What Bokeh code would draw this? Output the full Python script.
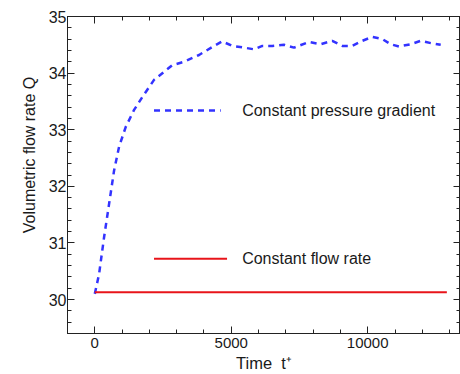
from bokeh.plotting import figure
from bokeh.models import Range1d, SingleIntervalTicker, LinearAxis, Label
from bokeh.embed import file_html
from bokeh.resources import INLINE

# Constant pressure gradient: flow rate vs time
t_pg = [0, 157, 340, 524, 707, 890, 1135, 1440, 1745, 2170, 2840, 3270, 3820, 4300,
        4670, 5040, 5470, 5835, 6140, 6505, 6935, 7300, 7850, 8280, 8700, 9070,
        9435, 9800, 10170, 10535, 10840, 11150, 11575, 11940, 12310, 12675]
q_pg = [30.10, 30.45, 31.10, 31.69, 32.28, 32.70, 33.05, 33.35, 33.58, 33.88, 34.14, 34.20,
        34.32, 34.46, 34.56, 34.48, 34.45, 34.42, 34.48, 34.48, 34.50, 34.45, 34.55, 34.51,
        34.57, 34.48, 34.48, 34.57, 34.64, 34.60, 34.51, 34.47, 34.51, 34.57, 34.53, 34.50]

# Constant flow rate
t_cf = [0, 12900]
q_cf = [30.13, 30.13]

label_pg = "Constant pressure gradient"
label_cf = "Constant flow rate"
x_label = "Time\u00a0\u00a0t\u207a"
y_label = "Volumetric flow rate Q"

FONT = "Liberation Sans"
TXT = "#1a1a1a"
BLUE = "#3333ff"
RED = "#e8141a"

p = figure(width=460, height=374, output_backend="svg", toolbar_location=None,
           x_range=Range1d(-1000, 13400), y_range=Range1d(29.4, 35.0),
           min_border_left=67, min_border_right=0, min_border_top=16, min_border_bottom=41,
           background_fill_color="white", border_fill_color="white")
p.outline_line_color = "#222222"
p.grid.visible = False

blue = p.line(t_pg, q_pg, line_color=BLUE, line_width=2.5, line_dash="6 5")
red = p.line(t_cf, q_cf, line_color=RED, line_width=2)

def style_axis(ax, labels=True, size="15px"):
    ax.axis_line_color = "#222222"
    ax.major_tick_line_color = "#222222"
    ax.minor_tick_line_color = "#222222"
    ax.major_tick_in = 7
    ax.major_tick_out = 0
    ax.minor_tick_in = 4
    ax.minor_tick_out = 0
    if labels:
        ax.major_label_text_font = FONT
        ax.major_label_text_font_size = size
        ax.major_label_text_color = TXT
    else:
        ax.major_label_text_font_size = "0px"
        ax.major_label_text_color = None
        ax.major_label_standoff = 0

xa = p.xaxis[0]
xa.ticker = SingleIntervalTicker(interval=5000, num_minor_ticks=5)
style_axis(xa, True, "15px")
xa.major_label_standoff = 4
xa.axis_label = x_label
xa.axis_label_text_font = FONT
xa.axis_label_text_font_size = "16.5px"
xa.axis_label_text_font_style = "normal"
xa.axis_label_text_color = TXT
xa.axis_label_standoff = 3

ya = p.yaxis[0]
ya.ticker = SingleIntervalTicker(interval=1, num_minor_ticks=5)
style_axis(ya, True, "16px")
ya.major_label_standoff = 1
# leading no-break spaces lift the centred label, as in the original
ya.axis_label = "\u00a0" * 9 + y_label
ya.axis_label_text_font = FONT
ya.axis_label_text_font_size = "16px"
ya.axis_label_text_font_style = "normal"
ya.axis_label_text_color = TXT
ya.axis_label_standoff = 8

top = LinearAxis(ticker=SingleIntervalTicker(interval=5000, num_minor_ticks=5))
style_axis(top, False)
p.add_layout(top, "above")
right = LinearAxis(ticker=SingleIntervalTicker(interval=1, num_minor_ticks=5))
style_axis(right, False)
p.add_layout(right, "right")

# In-plot key (line samples + labels), placed in data space
KEY_X0 = 2170
KEY_X1_PG = 4615
KEY_X1_CF = 4846
KEY_TX = 5400
KEY_Y_PG = 33.34
KEY_Y_CF = 30.72

p.segment(x0=[KEY_X0], y0=[KEY_Y_PG], x1=[KEY_X1_PG], y1=[KEY_Y_PG],
          line_color=BLUE, line_width=2.5, line_dash="6 5")
p.segment(x0=[KEY_X0], y0=[KEY_Y_CF], x1=[KEY_X1_CF], y1=[KEY_Y_CF],
          line_color=RED, line_width=2)
for txt, yy in ((label_pg, KEY_Y_PG), (label_cf, KEY_Y_CF)):
    p.add_layout(Label(x=KEY_TX, y=yy, text=txt, text_baseline="middle", text_align="left",
                       text_font=FONT, text_font_size="16px", text_color=TXT))

open("out.html", "w").write(file_html(p, INLINE))
